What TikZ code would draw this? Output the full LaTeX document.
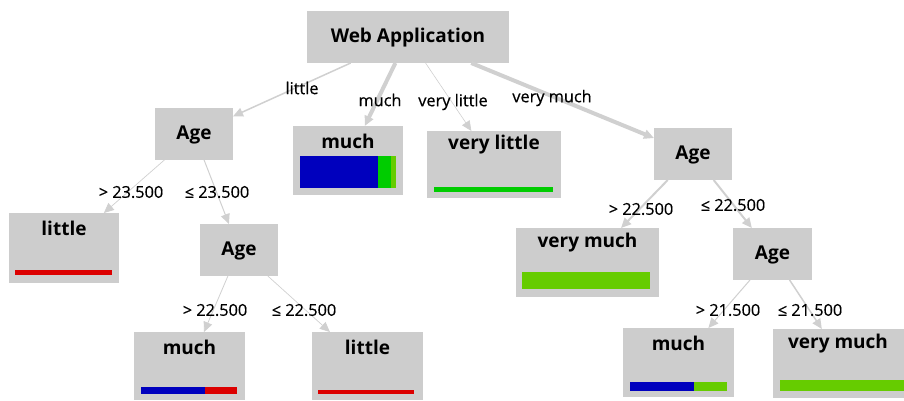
\documentclass[tikz,border=0pt]{standalone}
\usepackage{fontspec}
\setmainfont{Open Sans}
\newfontfamily\edgefont[FakeBold=0.5]{Open Sans}
\usetikzlibrary{arrows.meta}
\definecolor{boxgray}{RGB}{205,205,205}
\definecolor{edgegray}{RGB}{208,208,208}
\definecolor{barblue}{RGB}{0,0,190}
\definecolor{bargreen}{RGB}{0,204,0}
\definecolor{barlime}{RGB}{102,204,0}
\definecolor{barred}{RGB}{220,0,0}
\begin{document}
\begin{tikzpicture}[x=1pt,y=-1pt,
  box/.style={fill=boxgray, inner sep=0pt, outer sep=0pt, draw=none},
  innerbox/.style={box, minimum width=78pt, minimum height=52pt},
  ntxt/.style={font=\bfseries\fontsize{19}{21}\selectfont, inner sep=0pt, text=black},
  elab/.style={font=\edgefont\fontsize{16.3}{18}\selectfont, inner sep=0pt, text=black},
  conn/.style={draw=edgegray, -{Triangle[length=10pt,width=9pt]}},
]
\useasboundingbox (0,0) rectangle (904,400);
\clip (0,0) rectangle (904,400);

% inner nodes
\node[box, minimum width=202pt, minimum height=52pt] (web) at (408,37) {};
\node[innerbox] (age1) at (194,134) {};
\node[innerbox] (ageR) at (693,154) {};
\node[innerbox] (ageM) at (239,250) {};
\node[innerbox, minimum width=79pt] (age4) at (772.5,254) {};

% leaf nodes
\node[box, minimum width=110pt, minimum height=69pt] (muchA) at (348,160.5) {};
\node[box, minimum width=134pt, minimum height=67pt] (vlittle) at (494,164.5) {};
\node[box, minimum width=110pt, minimum height=70pt] (littleA) at (64,248) {};
\node[box, minimum width=111pt, minimum height=68pt] (muchB) at (189.5,366) {};
\node[box, minimum width=111pt, minimum height=68pt] (littleB) at (367.5,366) {};
\node[box, minimum width=143pt, minimum height=69pt] (vmA) at (587.5,262.5) {};
\node[box, minimum width=111pt, minimum height=69pt] (muchC) at (678.5,362.5) {};
\node[box, minimum width=143pt, minimum height=69pt] (vmB) at (844.5,363.5) {};

% node texts
\node[ntxt] (tweb) at (408,38) {Web Application};
\node[ntxt] (tage1) at (194,135) {Age};
\node[ntxt] (tageR) at (693,155) {Age};
\node[ntxt] (tageM) at (239,251) {Age};
\node[ntxt] (tage4) at (772.5,255) {Age};
\node[ntxt] (tmuchA) at (348,141) {much};
\node[ntxt] (tvlittle) at (494,145) {very little};
\node[ntxt] (tlittleA) at (64,228) {little};
\node[ntxt] (tmuchB) at (189.5,347) {much};
\node[ntxt] (tlittleB) at (367.5,347) {little};
\node[ntxt] (tvmA) at (587.5,243) {very much};
\node[ntxt] (tmuchC) at (678.5,343) {much};
\node[ntxt] (tvmB) at (838,344) {very much};

% bars
\fill[barblue] (300,156) rectangle (378,188);
\fill[bargreen] (378,156) rectangle (391,188);
\fill[barlime] (391,156) rectangle (396,188);
\fill[bargreen] (434,187) rectangle (553,192);
\fill[barred] (15,270) rectangle (112,275);
\fill[barblue] (141,387) rectangle (205,394);
\fill[barred] (205,387) rectangle (237,394);
\fill[barred] (318,390) rectangle (414,394);
\fill[barlime] (522,272) rectangle (650,289);
\fill[barblue] (630,382) rectangle (694,391);
\fill[barlime] (694,382) rectangle (727,391);
\fill[barlime] (780,380) rectangle (910,391);

% connectors
\draw[conn, line width=1.5pt] (web) -- (age1);
\draw[conn, line width=4pt] (web) -- (muchA);
\draw[conn, line width=0.6pt] (web) -- (vlittle);
\draw[conn, line width=4pt] (web) -- (ageR);
\draw[conn, line width=0.7pt] (age1) -- (littleA);
\draw[conn, line width=1pt] (age1) -- (ageM);
\draw[conn, line width=0.8pt] (ageM) -- (muchB);
\draw[conn, line width=0.7pt] (ageM) -- (littleB);
\draw[conn, line width=2pt] (ageR) -- (vmA);
\draw[conn, line width=2pt] (ageR) -- (age4);
\draw[conn, line width=1pt] (age4) -- (muchC);
\draw[conn, line width=1.5pt] (age4) -- (vmB);

% edge labels
\node[elab] (l1) at (302,88) {little};
\node[elab] (l2) at (380,100) {much};
\node[elab] (l3) at (453,102) {very little};
\node[elab] (l4) at (552,98) {very much};
\node[elab] (l5) at (131,192) {> 23.500};
\node[elab] (l6) at (217,192) {≤ 23.500};
\node[elab] (l7) at (215,310) {> 22.500};
\node[elab] (l8) at (304,310) {≤ 22.500};
\node[elab] (l9) at (641,209) {> 22.500};
\node[elab] (l10) at (733,205) {≤ 22.500};
\node[elab] (l11) at (728,310) {> 21.500};
\node[elab] (l12) at (810,310) {≤ 21.500};
\end{tikzpicture}
\end{document}
